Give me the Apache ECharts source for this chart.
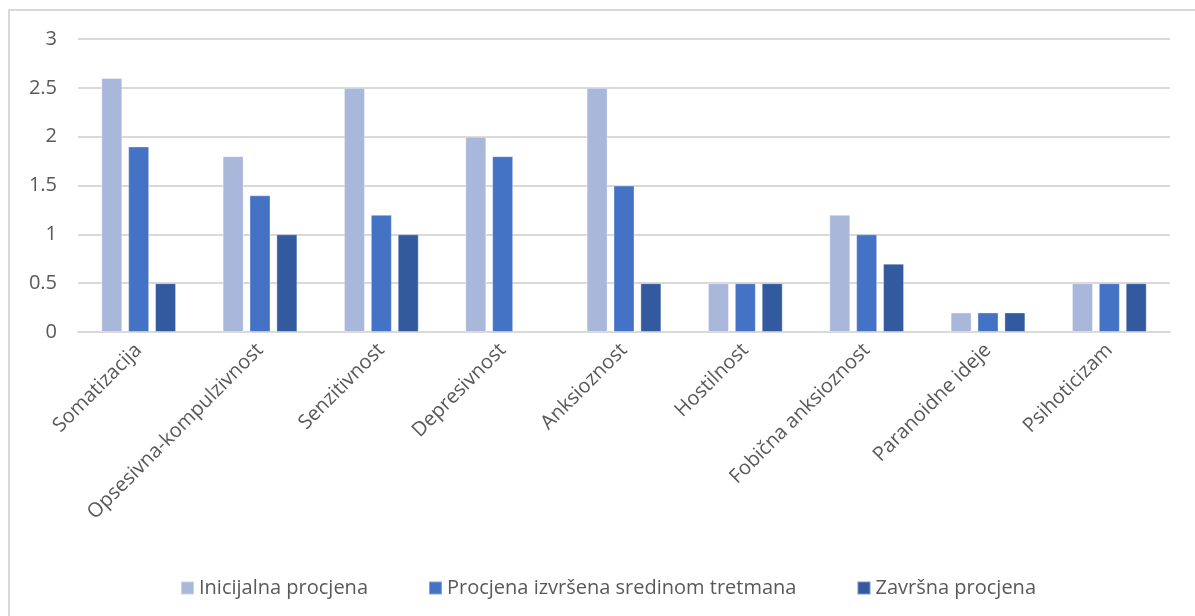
<!DOCTYPE html>
<html>
<head>
<meta charset="utf-8">
<script src="https://cdn.jsdelivr.net/npm/echarts@6/dist/echarts.min.js"></script>
<style>
html,body{margin:0;padding:0;background:#fff;}
#frame{position:absolute;left:8px;top:9px;width:1187px;height:607px;border-left:2px solid #d9d9d9;border-top:2px solid #d9d9d9;}
#chart{position:absolute;left:0;top:0;width:1195px;height:616px;}
</style>
</head>
<body>
<div id="frame"></div>
<div id="chart"></div>
<script>
const categories = ["Somatizacija","Opsesivna-kompulzivnost","Senzitivnost","Depresivnost","Anksioznost","Hostilnost","Fobična anksioznost","Paranoidne ideje","Psihoticizam"];
const seriesNames = ["Inicijalna procjena","Procjena izvršena sredinom tretmana","Završna procjena"];
const inicijalna = [2.6, 1.8, 2.5, 2.0, 2.5, 0.5, 1.2, 0.2, 0.5];
const sredina = [1.9, 1.4, 1.2, 1.8, 1.5, 0.5, 1.0, 0.2, 0.5];
const zavrsna = [0.5, 1.0, 1.0, null, 0.5, 0.5, 0.7, 0.2, 0.5];
const yTicks = [0, 0.5, 1, 1.5, 2, 2.5, 3];

const colors = ["#A9B7DB", "#4472C4", "#335A9F"];
const font = "'Open Sans', sans-serif";
const chart = echarts.init(document.getElementById('chart'));
const mk = (name, data, i) => ({
  name, type: 'bar', data, barWidth: 21, barGap: '28%',
  itemStyle: { color: colors[i], borderColor: 'rgba(255,255,255,0.35)', borderWidth: 1 }
});
chart.setOption({
  animation: false,
  color: colors,
  grid: { left: 78, right: 25, top: 39, bottom: 284, containLabel: false },
  xAxis: {
    type: 'category', data: categories,
    axisLine: { show: true, lineStyle: { color: '#d9d9d9', width: 2 } },
    axisTick: { show: false },
    axisLabel: { rotate: 45, color: '#595959', fontSize: 20, fontFamily: font, margin: 15, interval: 0 }
  },
  yAxis: {
    type: 'value', min: yTicks[0], max: yTicks[yTicks.length-1], interval: 0.5,
    axisLine: { show: false }, axisTick: { show: false },
    axisLabel: { color: '#595959', fontSize: 20, fontFamily: font, margin: 21 },
    splitLine: { lineStyle: { color: '#d9d9d9', width: 2 } }
  },
  legend: {
    top: 573, left: 175, itemWidth: 13, itemHeight: 13, itemGap: 60, icon: 'rect',
    textStyle: { color: '#595959', fontSize: 20, fontFamily: font, padding: [0,0,0,0] },
    data: seriesNames
  },
  series: [mk(seriesNames[0], inicijalna, 0), mk(seriesNames[1], sredina, 1), mk(seriesNames[2], zavrsna, 2)]
});
</script>
</body>
</html>
